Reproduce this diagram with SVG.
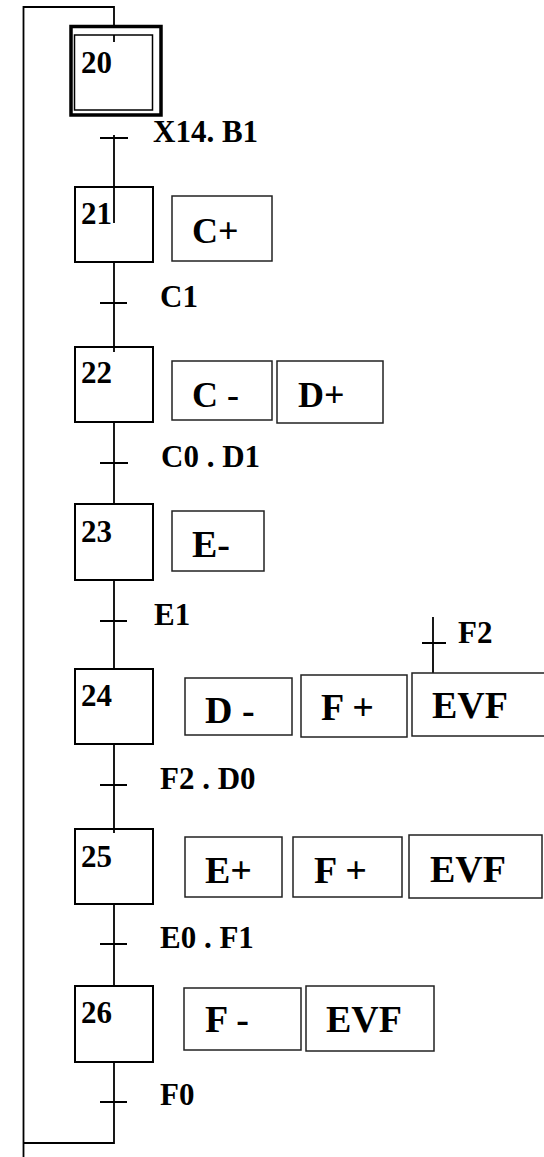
<svg xmlns="http://www.w3.org/2000/svg" width="544" height="1157" viewBox="0 0 544 1157">
<style>
.step{fill:#fff;stroke:#000;stroke-width:2}
.act{fill:#fff;stroke:#222;stroke-width:1.5}
.ln{fill:none;stroke:#000;stroke-width:1.8}
text{font-family:"Liberation Serif","Times New Roman",serif;font-weight:bold;fill:#000}
.num{font-size:31px}
.tr{font-size:31px}
.a{font-size:38px}
.a2{font-size:36px}
</style>
<g id="connectors">
<path class="ln" d="M23.5,1157 V7 H114 V42"/>
<path class="ln" d="M114,135 V223 M100,138 H128"/>
<path class="ln" d="M114,262 V352 M100,303 H127"/>
<path class="ln" d="M114,422 V504 M100,463 H128"/>
<path class="ln" d="M114,580 V669 M100,621 H127"/>
<path class="ln" d="M114,744 V833 M100,785 H127"/>
<path class="ln" d="M114,904 V986 M100,944 H127"/>
<path class="ln" d="M114,1062 V1143 H23.5 M100,1102 H127"/>
<path class="ln" d="M433,617 V676 M422,643 H446"/>
</g>
<g id="step20">
<rect x="71" y="26.5" width="90" height="88.5" fill="#fff" stroke="#000" stroke-width="3.5"/>
<rect x="74.5" y="35" width="78" height="75" fill="none" stroke="#000" stroke-width="1.5"/>
<line class="ln" x1="114" y1="35" x2="114" y2="42"/>
<text class="num" x="81" y="73">20</text>
</g>
<g id="t20"><text class="tr" x="153" y="142">X14. B1</text></g>
<g id="step21">
<rect class="step" x="75" y="187" width="78" height="75"/>
<line class="ln" x1="114" y1="187" x2="114" y2="223"/>
<text class="num" x="81" y="224">21</text>
</g>
<g id="a21"><rect class="act" x="172" y="196" width="100" height="65"/><text class="a2" x="192" y="243">C+</text></g>
<g id="t21"><text class="tr" x="160" y="307">C1</text></g>
<g id="step22">
<rect class="step" x="75" y="347" width="78" height="75"/>
<line class="ln" x1="114" y1="347" x2="114" y2="352"/>
<text class="num" x="81" y="383">22</text>
</g>
<g id="a22a"><rect class="act" x="172" y="361" width="100" height="59"/><text class="a2" x="192" y="407">C -</text></g>
<g id="a22b"><rect class="act" x="277" y="361" width="106" height="62"/><text class="a2" x="298" y="407">D+</text></g>
<g id="t22"><text class="tr" x="161" y="467">C0 . D1</text></g>
<g id="step23">
<rect class="step" x="75" y="504" width="78" height="76"/>
<text class="num" x="81" y="542">23</text>
</g>
<g id="a23"><rect class="act" x="172" y="511" width="92" height="60"/><text class="a" x="192" y="557">E-</text></g>
<g id="t23"><text class="tr" x="154" y="625">E1</text></g>
<g id="step24">
<rect class="step" x="75" y="669" width="78" height="75"/>
<text class="num" x="81" y="706">24</text>
</g>
<g id="a24a"><rect class="act" x="185" y="678" width="107" height="57"/><text class="a" x="205" y="723">D -</text></g>
<g id="a24b"><rect class="act" x="301" y="675" width="106" height="62"/><text class="a" x="321" y="720">F +</text></g>
<g id="a24c"><rect class="act" x="412" y="673" width="140" height="63"/><text class="a" x="432" y="718">EVF</text></g>
<g id="t24c"><text class="tr" x="458" y="643">F2</text></g>
<g id="t24"><text class="tr" x="160" y="789">F2 . D0</text></g>
<g id="step25">
<rect class="step" x="75" y="829" width="78" height="75"/>
<line class="ln" x1="114" y1="829" x2="114" y2="833"/>
<text class="num" x="81" y="867">25</text>
</g>
<g id="a25a"><rect class="act" x="185" y="837" width="97" height="60"/><text class="a" x="205" y="883">E+</text></g>
<g id="a25b"><rect class="act" x="293" y="837" width="109" height="60"/><text class="a" x="314" y="883">F +</text></g>
<g id="a25c"><rect class="act" x="409" y="835" width="133" height="63"/><text class="a" x="430" y="882">EVF</text></g>
<g id="t25"><text class="tr" x="160" y="948">E0 . F1</text></g>
<g id="step26">
<rect class="step" x="75" y="986" width="78" height="76"/>
<text class="num" x="81" y="1023">26</text>
</g>
<g id="a26a"><rect class="act" x="184" y="988" width="117" height="62"/><text class="a" x="205" y="1032">F -</text></g>
<g id="a26b"><rect class="act" x="306" y="986" width="128" height="65"/><text class="a" x="326" y="1032">EVF</text></g>
<g id="t26"><text class="tr" x="160" y="1105">F0</text></g>
</svg>
